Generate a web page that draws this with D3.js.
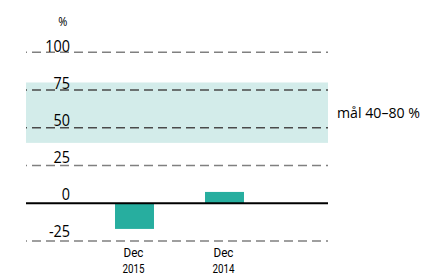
<!DOCTYPE html>
<html><head><meta charset="utf-8">
<script src="https://cdn.jsdelivr.net/npm/d3@7"></script>
<style>body{margin:0;background:#fff}svg{display:block}text{font-family:"Open Sans","Noto Sans",sans-serif;fill:#000}text.xl{font-family:Roboto,"Open Sans",sans-serif}</style>
</head><body><svg id="c" width="424" height="275"></svg>
<script>
const categories = [["Dec","2015"],["Dec","2014"]];
const values = [-17, 7.5];
const yTicks = [-25, 0, 25, 50, 75, 100];
const targetBand = [40, 80];
const unitLabel = "%";
const targetLabel = "mål 40–80 %";

const svg = d3.select("#c");
const left = 26, right = 328;
const y = d3.scaleLinear().domain([-25, 100]).range([241, 52.3]);
const yLabel = d3.scaleLinear().domain([-25, 100]).range([236.7, 51.7]);
const x = d3.scaleBand().domain(categories.map((d,i)=>i)).range([89.5, 269.5]).paddingInner(0.567).paddingOuter(0.2835);

svg.append("rect").attr("x", left).attr("width", right-left)
  .attr("y", y(targetBand[1])).attr("height", y(targetBand[0]) - y(targetBand[1]))
  .attr("fill", "#d3ecea");

const grid = svg.append("g");
yTicks.filter(t => t !== 0).forEach(t => {
  grid.append("line").attr("x1", left).attr("x2", right).attr("y1", y(t)).attr("y2", y(t))
    .attr("stroke", (t >= targetBand[0] && t <= targetBand[1]) ? "#4a4a4a" : "#808080")
    .attr("stroke-width", 1.6).attr("stroke-dasharray", "9,5").attr("stroke-dashoffset", 8);
});

svg.selectAll("rect.bar").data(values).join("rect").attr("class","bar")
  .attr("x", (d,i) => x(i)).attr("width", x.bandwidth())
  .attr("y", d => y(Math.max(0,d))).attr("height", d => Math.abs(y(d)-y(0)))
  .attr("fill", "#27ae9f");

svg.append("line").attr("x1", left).attr("x2", right).attr("y1", y(0)).attr("y2", y(0))
  .attr("stroke", "#000").attr("stroke-width", 2.2);

svg.selectAll("text.tick").data(yTicks).join("text").attr("class","tick")
  .attr("transform", d => `translate(70,${yLabel(d)}) scale(0.9,1)`)
  .attr("text-anchor","end")
  .style("font-size","16px").text(d => d < 0 ? "-" + Math.abs(d) : d);

svg.append("text").attr("transform","translate(67.5,25.7) scale(0.85,1)").attr("text-anchor","end").style("font-size","13px").text(unitLabel);

const xl = svg.selectAll("text.xl").data(categories).join("text").attr("class","xl")
  .attr("text-anchor","middle");
xl.append("tspan").attr("x", (d,i) => x(i)+x.bandwidth()/2 - 1).attr("y", 257)
  .attr("textLength", 20).attr("lengthAdjust","spacingAndGlyphs").style("font-size","13.5px").text(d => d[0]);
xl.append("tspan").attr("x", (d,i) => x(i)+x.bandwidth()/2 - 1).attr("y", 272.5)
  .attr("textLength", 22).attr("lengthAdjust","spacingAndGlyphs").style("font-size","13.5px").text(d => d[1]);

svg.append("text").attr("x", 337).attr("y", 118.3).attr("textLength", 83).attr("lengthAdjust","spacingAndGlyphs").style("font-size","14px").text(targetLabel);
</script></body></html>
